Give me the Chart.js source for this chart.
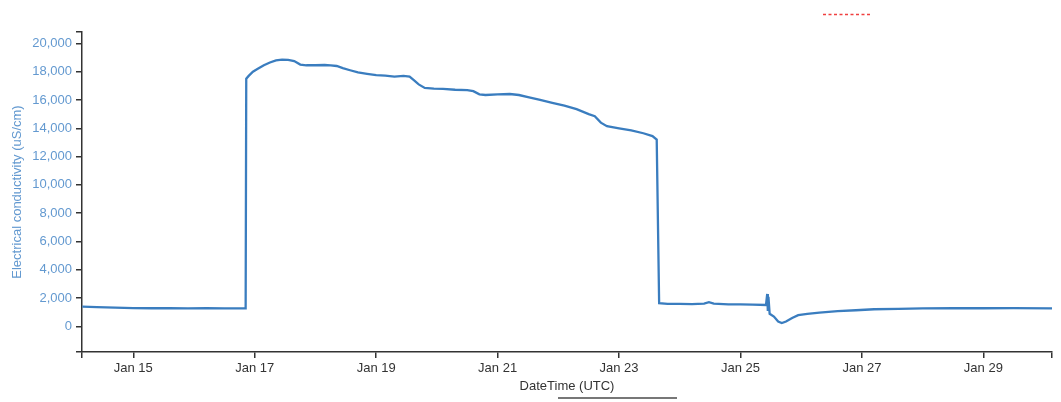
<!DOCTYPE html>
<html>
<head>
<meta charset="utf-8">
<script src="https://cdn.jsdelivr.net/npm/chart.js@4"></script>
<style>
  body { margin: 0; background: #fff; }
  canvas { display: block; }
</style>
</head>
<body>
<canvas id="ecChart" width="1061" height="402"></canvas>
<script>
// time in fractional days of January (UTC), conductivity in uS/cm
const days = [
  14.16, 14.4, 14.7, 15.0, 15.3, 15.6, 15.9, 16.2, 16.5, 16.85,
  16.86, 16.9, 16.97, 17.05, 17.15, 17.25, 17.35, 17.45, 17.55, 17.65,
  17.75, 17.85, 18.0, 18.15, 18.25, 18.35, 18.45, 18.57, 18.7, 18.85,
  19.0, 19.15, 19.3, 19.45, 19.55, 19.62, 19.7, 19.8, 19.95, 20.1,
  20.3, 20.5, 20.6, 20.7, 20.8, 21.0, 21.2, 21.35, 21.5, 21.7,
  21.9, 22.1, 22.3, 22.5, 22.6, 22.7, 22.8, 23.0, 23.2, 23.4,
  23.55, 23.62, 23.66, 23.8, 24.0, 24.2, 24.4, 24.48, 24.56, 24.8,
  25.0, 25.2, 25.42, 25.44, 25.45, 25.46, 25.48, 25.55, 25.62, 25.68,
  25.75, 25.85, 25.95, 26.1, 26.3, 26.6, 26.9, 27.2, 27.6, 28.0,
  28.5, 29.0, 29.5, 30.13
];
const ec = [
  1400, 1370, 1330, 1300, 1290, 1300, 1280, 1290, 1280, 1290,
  17500, 17700, 18000, 18200, 18450, 18650, 18800, 18850, 18830, 18750,
  18500, 18450, 18450, 18470, 18440, 18400, 18250, 18100, 17950, 17850,
  17750, 17720, 17650, 17700, 17650, 17400, 17100, 16850, 16800, 16780,
  16720, 16700, 16620, 16400, 16350, 16400, 16420, 16350, 16200, 16000,
  15800, 15600, 15350, 15000, 14850, 14400, 14150, 14000, 13850, 13650,
  13450, 13200, 1650, 1600, 1600, 1580, 1620, 1720, 1620, 1570,
  1560, 1540, 1520, 2300, 1100, 2100, 900, 700, 350, 250,
  350, 600, 800, 900, 980, 1080, 1150, 1220, 1250, 1280,
  1290, 1290, 1300, 1280
];
const xTickDays = [15, 17, 19, 21, 23, 25, 27, 29];
const yTicks = [0, 2000, 4000, 6000, 8000, 10000, 12000, 14000, 16000, 18000, 20000];

const xMin = 14.155, xMax = 30.13;
const yMin = -1800, yMax = 20800;

const labelBlue = "#6399d0";
const axisGrey = "#333";

// stray marks above and below the plot
const extras = {
  id: "extras",
  afterDraw(chart) {
    const c = chart.ctx;
    c.save();
    c.strokeStyle = "#f04040";
    c.lineWidth = 1.5;
    c.setLineDash([3, 2.5]);
    c.beginPath();
    c.moveTo(823, 14.5);
    c.lineTo(872, 14.5);
    c.stroke();
    c.setLineDash([]);
    c.strokeStyle = "#777";
    c.lineWidth = 2;
    c.beginPath();
    c.moveTo(558, 398);
    c.lineTo(677, 398);
    c.stroke();
    c.restore();
  }
};

const ctx = document.getElementById("ecChart").getContext("2d");
new Chart(ctx, {
  type: "line",
  data: {
    datasets: [
      {
        label: "Electrical conductivity",
        data: days.map((d, i) => ({ x: d, y: ec[i] })),
        borderColor: "#3a7dbf",
        borderWidth: 2.3,
        pointRadius: 0,
        tension: 0,
        fill: false,
      },
    ],
  },
  options: {
    responsive: false,
    animation: false,
    layout: { padding: { top: 32, right: 9, left: 0, bottom: 0 } },
    plugins: {
      legend: { display: false },
      tooltip: { enabled: false },
    },
    scales: {
      x: {
        type: "linear",
        min: xMin,
        max: xMax,
        afterBuildTicks: (axis) => {
          axis.ticks = [xMin, ...xTickDays, xMax].map((v) => ({ value: v }));
        },
        afterFit: (axis) => { axis.height = 50; },
        ticks: {
          autoSkip: false,
          maxRotation: 0,
          padding: 3,
          color: axisGrey,
          font: { family: "Liberation Sans, Arial", size: 13 },
          callback: (v) => (xTickDays.includes(v) ? "Jan " + v : ""),
        },
        grid: { drawOnChartArea: false, tickLength: 6, color: axisGrey, lineWidth: 1.5 },
        border: { color: axisGrey, width: 1.5 },
        title: {
          display: true,
          text: "DateTime (UTC)",
          color: axisGrey,
          font: { family: "Liberation Sans, Arial", size: 13 },
          padding: { top: 0, bottom: 8 },
        },
      },
      y: {
        min: yMin,
        max: yMax,
        afterBuildTicks: (axis) => {
          axis.ticks = [yMin, ...yTicks, yMax].map((v) => ({ value: v }));
        },
        afterFit: (axis) => { axis.width = 82; },
        ticks: {
          autoSkip: false,
          padding: 4,
          color: labelBlue,
          font: { family: "Liberation Sans, Arial", size: 13 },
          callback: (v) => (yTicks.includes(v) ? v.toLocaleString("en-US") : ""),
        },
        grid: { drawOnChartArea: false, tickLength: 6, color: axisGrey, lineWidth: 1.5 },
        border: { color: axisGrey, width: 1.5 },
        title: {
          display: true,
          text: "Electrical conductivity (uS/cm)",
          color: labelBlue,
          font: { family: "Liberation Sans, Arial", size: 13 },
          padding: { top: 10, bottom: 0 },
        },
      },
    },
  },
  plugins: [extras],
});
</script>
</body>
</html>
